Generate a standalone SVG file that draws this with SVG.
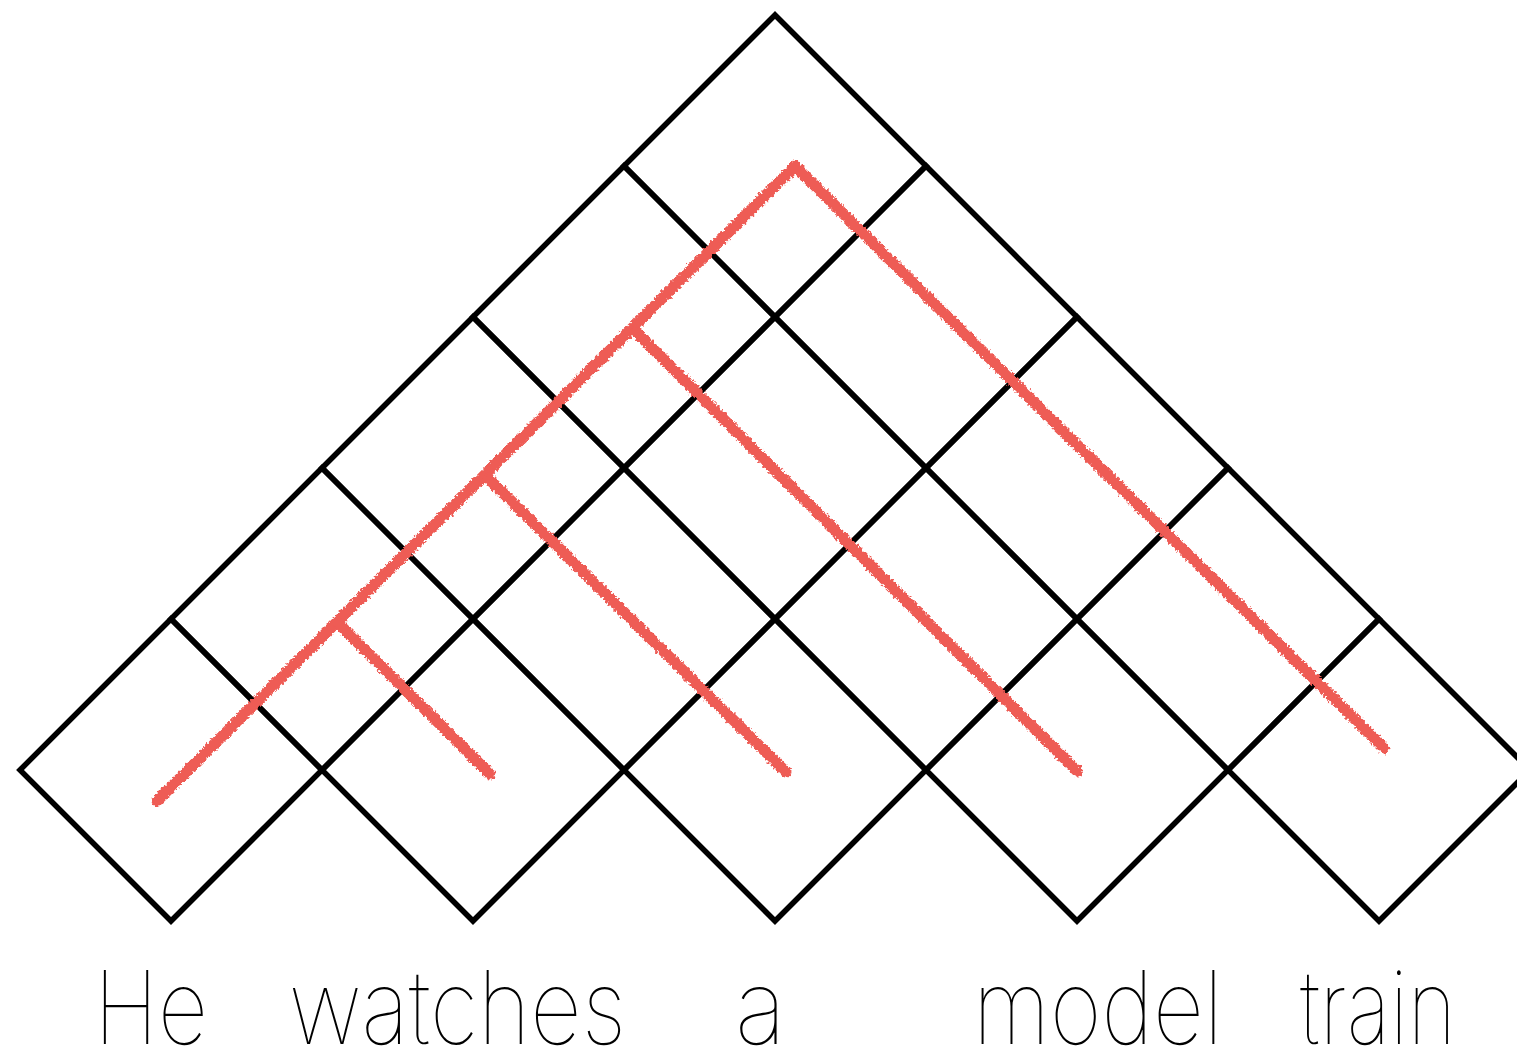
<svg xmlns="http://www.w3.org/2000/svg" width="1517" height="1052" viewBox="0 0 1517 1052">
<style>
.cell{fill:none;stroke:#000;stroke-width:5.5;stroke-linejoin:miter}
.red{fill:none;stroke:#EE5B55;stroke-width:11;stroke-linecap:round;stroke-linejoin:round;filter:url(#rough)}
.word{font-family:Inter,"Liberation Sans",sans-serif;font-weight:100;font-size:102px;fill:#000}
</style>
<defs>
<filter id="rough" x="-5%" y="-5%" width="110%" height="110%">
<feTurbulence type="fractalNoise" baseFrequency="0.4" numOctaves="2" seed="3" result="n"/>
<feDisplacementMap in="SourceGraphic" in2="n" scale="6" xChannelSelector="R" yChannelSelector="G"/>
</filter>
</defs>
<g id="cells">
<g id="c0-0"><path class="cell" d="M20 770 L171 619 L322 770 L171 921 Z"/></g>
<g id="c0-1"><path class="cell" d="M322 770 L473 619 L624 770 L473 921 Z"/></g>
<g id="c0-2"><path class="cell" d="M624 770 L775 619 L926 770 L775 921 Z"/></g>
<g id="c0-3"><path class="cell" d="M926 770 L1077 619 L1228 770 L1077 921 Z"/></g>
<g id="c0-4"><path class="cell" d="M1228 770 L1379 619 L1530 770 L1379 921 Z"/></g>
<g id="c1-0"><path class="cell" d="M171 619 L322 468 L473 619 L322 770 Z"/></g>
<g id="c1-1"><path class="cell" d="M473 619 L624 468 L775 619 L624 770 Z"/></g>
<g id="c1-2"><path class="cell" d="M775 619 L926 468 L1077 619 L926 770 Z"/></g>
<g id="c1-3"><path class="cell" d="M1077 619 L1228 468 L1379 619 L1228 770 Z"/></g>
<g id="c2-0"><path class="cell" d="M322 468 L473 317 L624 468 L473 619 Z"/></g>
<g id="c2-1"><path class="cell" d="M624 468 L775 317 L926 468 L775 619 Z"/></g>
<g id="c2-2"><path class="cell" d="M926 468 L1077 317 L1228 468 L1077 619 Z"/></g>
<g id="c3-0"><path class="cell" d="M473 317 L624 166 L775 317 L624 468 Z"/></g>
<g id="c3-1"><path class="cell" d="M775 317 L926 166 L1077 317 L926 468 Z"/></g>
<g id="c4-0"><path class="cell" d="M624 166 L775 15 L926 166 L775 317 Z"/></g>
</g>
<g id="connectors">
<path class="red" d="M157 801 L795 166 L1384 748"/>
<path class="red" d="M338 623 L490 774"/>
<path class="red" d="M489 479 L786 772"/>
<path class="red" d="M636 332 L1077 771"/>
</g>
<g id="words">
<g id="w-he"><text class="word" x="94" y="1044" textLength="114" lengthAdjust="spacingAndGlyphs">He</text></g>
<g id="w-watches"><text class="word" x="289" y="1044" textLength="337" lengthAdjust="spacingAndGlyphs">watches</text></g>
<g id="w-a"><text class="word" x="735" y="1044" textLength="51" lengthAdjust="spacingAndGlyphs">a</text></g>
<g id="w-model"><text class="word" x="973" y="1044" textLength="250" lengthAdjust="spacingAndGlyphs">model</text></g>
<g id="w-train"><text class="word" x="1300" y="1044" textLength="156" lengthAdjust="spacingAndGlyphs">train</text></g>
</g>
</svg>
